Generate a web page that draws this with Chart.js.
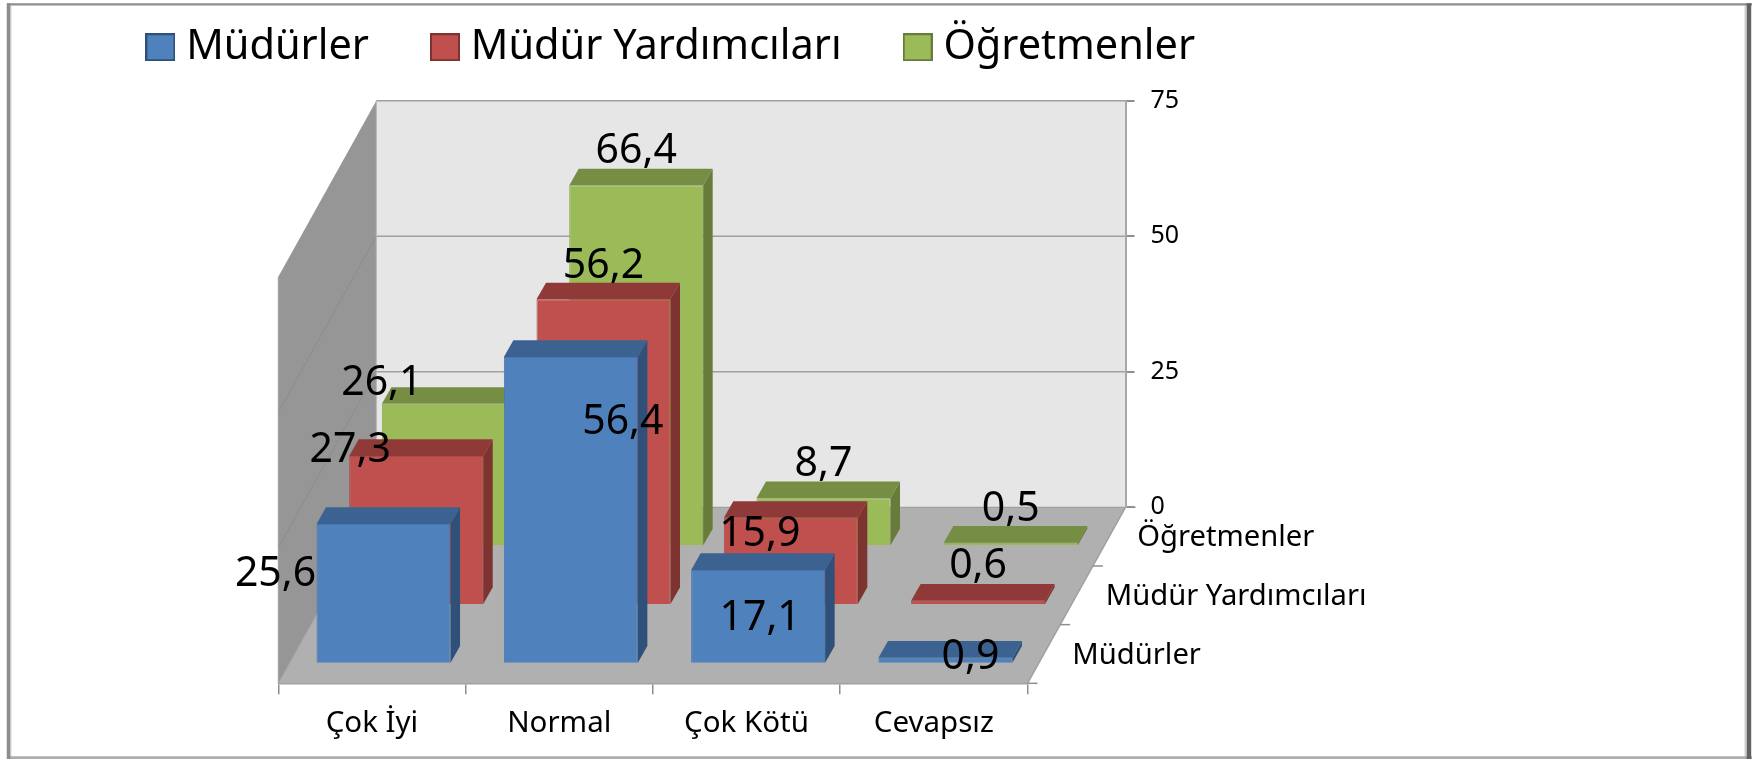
<!DOCTYPE html>
<html>
<head>
<meta charset="utf-8">
<style>html,body{margin:0;padding:0;background:#fff}canvas{display:block}</style>
<script src="https://cdn.jsdelivr.net/npm/chart.js@4"></script>
</head>
<body>
<canvas id="c" width="1752" height="759"></canvas>
<script>
const categories = ['Çok İyi', 'Normal', 'Çok Kötü', 'Cevapsız'];
const seriesNames = ['Müdürler', 'Müdür Yardımcıları', 'Öğretmenler'];
const mudurler = [25.6, 56.4, 17.1, 0.9];
const yardimcilar = [27.3, 56.2, 15.9, 0.6];
const ogretmenler = [26.1, 66.4, 8.7, 0.5];
const valueTicks = [0, 25, 50, 75];

// styling and projection of the 3D box, kept apart from the data
const FONT = '"Noto Sans"';
const fronts = ['#4F81BD', '#C0504D', '#9BBB59'];
const edges = ['#4776AE', '#B04845', '#8FAD52'];
const tops = ['#3C6292', '#8F3A38', '#768E43'];
const sides = ['#2F5078', '#7D3330', '#677C3A'];
const G = {
  floorLeft: 278.3, floorY: 683.3, catW: 187.3, wallH: 406.6,
  depthX: 98, depthY: 176, barInsetX: 11.6, barInsetY: 20.6,
  capX: 9.5, capY: 16.7
};
const labelShift = [
  [[-108, 50.5], [52, 65.5], [2, 48.5], [25, -0.5]],
  [[-66, -5.5], [0, -33.5], [-31, 16.5], [0, -34.5]],
  [[-67, -20.5], [0, -34], [0, -33.5], [0, -33.5]]
];
const depthLabelPos = [[1072.3, 655.7], [1105.7, 596.7], [1137.3, 538]];

function poly(ctx, pts, fill) {
  ctx.beginPath();
  pts.forEach((p, i) => i ? ctx.lineTo(p[0], p[1]) : ctx.moveTo(p[0], p[1]));
  ctx.closePath();
  ctx.fillStyle = fill;
  ctx.fill();
}
function line(ctx, x1, y1, x2, y2, color, w) {
  ctx.beginPath();
  ctx.moveTo(x1, y1);
  ctx.lineTo(x2, y2);
  ctx.strokeStyle = color;
  ctx.lineWidth = w;
  ctx.stroke();
}
function swatch(i) {
  const cv = document.createElement('canvas');
  cv.width = 30; cv.height = 28;
  const c = cv.getContext('2d');
  c.fillStyle = fronts[i];
  c.fillRect(0, 0, 30, 28);
  c.strokeStyle = sides[i];
  c.lineWidth = 2;
  c.strokeRect(1, 1, 28, 26);
  return cv;
}
function place(s, left, right, top, bottom) {
  s.left = left; s.right = right; s.top = top; s.bottom = bottom;
  s.width = right - left; s.height = bottom - top;
  s.configure();
}

const box3d = {
  id: 'box3d',
  afterLayout(chart) {
    const S = chart.scales, w = G.catW * categories.length;
    place(S.x, G.floorLeft, G.floorLeft + w, G.floorY, G.floorY + 70);
    place(S.yWall, G.floorLeft + G.depthX + w, G.floorLeft + G.depthX + w + 70,
      G.floorY - G.depthY - G.wallH, G.floorY - G.depthY);
    seriesNames.forEach((_, i) => {
      const l = G.floorLeft + G.barInsetX + i * G.depthX / 3;
      const b = G.floorY - G.barInsetY - i * G.depthY / 3;
      place(S['x' + i], l, l + w, b, b);
      place(S['y' + i], l, l, b - G.wallH, b);
    });
    const lg = chart.legend;
    lg.left = 84.4; lg.top = -44.5;
  },
  beforeDraw(chart) {
    const ctx = chart.ctx, S = chart.scales, W = chart.width, H = chart.height;
    ctx.save();
    ctx.fillStyle = '#fff';
    ctx.fillRect(0, 0, W, H);
    // picture frame
    line(ctx, 10.8, 5.5, 10.8, 757, '#DADADA', 1.5);
    line(ctx, 1745.3, 5.5, 1745.3, 757, '#CCCCCC', 1.5);
    line(ctx, 7, 757.6, 1752, 757.6, '#ADADAD', 2.8);
    line(ctx, 8.5, 3.3, 8.5, 759, '#8C8C8C', 3.5);
    line(ctx, 7, 4.4, 1752, 4.4, '#8E8E8E', 2.3);
    line(ctx, 1748.9, 3.3, 1748.9, 759, '#626262', 4.6);

    const fl = S.x.left, fr = S.x.right, fy = S.x.top;
    const dx = G.depthX, dy = G.depthY;
    const y0 = S.yWall.getPixelForValue(0), yMax = S.yWall.getPixelForValue(75);
    poly(ctx, [[fl + dx, yMax], [fr + dx, yMax], [fr + dx, y0], [fl + dx, y0]], '#E6E6E6');
    poly(ctx, [[fl, yMax + dy], [fl + dx, yMax], [fl + dx, y0], [fl, fy]], '#969696');
    poly(ctx, [[fl, fy], [fl + dx, y0], [fr + dx, y0], [fr, fy]], '#B0B0B0');
    valueTicks.forEach(v => {
      const y = S.yWall.getPixelForValue(v);
      if (v > 0) {
        line(ctx, fl + dx, y, fr + dx, y, '#A0A0A0', 1.5);
        if (v < 75) line(ctx, fl, y + dy, fl + dx, y, '#8C8C8C', 1);
      }
    });
    line(ctx, fl, fy, fl + dx, y0, '#A0A0A0', 1);
    line(ctx, fl + dx, y0, fr + dx, y0, '#A0A0A0', 1.2);
    line(ctx, fl + dx, yMax, fl + dx, y0, '#B4B4B4', 1);
    line(ctx, fr, fy, fr + dx, y0, '#A0A0A0', 1.5);
    line(ctx, fl, yMax + dy, fl, fy, '#A0A0A0', 1);
    // depth axis ticks and labels
    for (let i = 0; i <= seriesNames.length; i++) {
      const tx = fr + i * dx / 3, ty = fy - i * dy / 3;
      line(ctx, tx, ty, tx + 10, ty, '#8E8E8E', 1.5);
    }
    ctx.fillStyle = '#000';
    ctx.font = '29.2px ' + FONT;
    ctx.textBaseline = 'middle';
    ctx.textAlign = 'left';
    seriesNames.forEach((n, i) => ctx.fillText(n, depthLabelPos[i][0], depthLabelPos[i][1]));
    ctx.restore();
  },
  afterDatasetDraw(chart, args) {
    const ctx = chart.ctx, i = args.index;
    ctx.save();
    chart.getDatasetMeta(i).data.forEach(bar => {
      const p = bar.getProps(['x', 'y', 'base', 'width'], true);
      const L = p.x - p.width / 2, R = p.x + p.width / 2;
      poly(ctx, [[R, p.y], [R + G.capX, p.y - G.capY], [R + G.capX, p.base - G.capY], [R, p.base]], sides[i]);
      poly(ctx, [[L, p.y], [L + G.capX, p.y - G.capY], [R + G.capX, p.y - G.capY], [R, p.y]], tops[i]);
    });
    ctx.restore();
  },
  afterDatasetsDraw(chart) {
    const ctx = chart.ctx;
    ctx.save();
    ctx.fillStyle = '#000';
    ctx.font = '41px ' + FONT;
    ctx.textAlign = 'center';
    ctx.textBaseline = 'middle';
    chart.data.datasets.forEach((ds, i) => {
      chart.getDatasetMeta(i).data.forEach((bar, j) => {
        const t = ds.data[j].toFixed(1).replace('.', ',');
        ctx.fillText(t, bar.x + labelShift[i][j][0], bar.y + labelShift[i][j][1]);
      });
    });
    ctx.restore();
  }
};

const allSeries = [mudurler, yardimcilar, ogretmenler];
const hiddenAxes = {};
seriesNames.forEach((_, i) => {
  hiddenAxes['x' + i] = { type: 'category', labels: categories, offset: true, display: false };
  hiddenAxes['y' + i] = { type: 'linear', min: 0, max: 75, display: false };
});

new Chart(document.getElementById('c'), {
  type: 'bar',
  plugins: [box3d],
  data: {
    labels: categories,
    datasets: seriesNames.map((n, i) => ({
      label: n,
      data: allSeries[i],
      xAxisID: 'x' + i,
      yAxisID: 'y' + i,
      backgroundColor: fronts[i],
      borderColor: edges[i],
      borderWidth: 1,
      grouped: false,
      barPercentage: 134 / 187.3,
      categoryPercentage: 1,
      clip: false
    }))
  },
  options: {
    responsive: false,
    animation: false,
    events: [],
    scales: Object.assign({
      x: {
        type: 'category', labels: categories, offset: true, position: 'bottom',
        grid: { offset: true, drawOnChartArea: false, tickLength: 11, color: '#8E8E8E', lineWidth: 1.5 },
        border: { color: '#A0A0A0', width: 1.5 },
        ticks: { autoSkip: false, maxRotation: 0, minRotation: 0, color: '#000', padding: 12, font: { family: FONT, size: 29.5 } }
      },
      yWall: {
        type: 'linear', position: 'right', min: 0, max: 75,
        afterBuildTicks(s) { s.ticks = valueTicks.map(v => ({ value: v })); },
        grid: { drawOnChartArea: false, tickLength: 9, color: '#8E8E8E', lineWidth: 2 },
        border: { color: '#A8A8A8', width: 2 },
        ticks: { color: '#000', padding: 16, font: { family: FONT, size: 25 } }
      }
    }, hiddenAxes),
    plugins: {
      tooltip: { enabled: false },
      title: { display: false },
      legend: {
        position: 'top',
        align: 'start',
        labels: {
          usePointStyle: true,
          pointStyleWidth: 10,
          boxHeight: 28,
          padding: 71,
          color: '#000',
          font: { family: FONT, size: 41.5 },
          generateLabels: () => seriesNames.map((n, i) => ({
            text: n, datasetIndex: i, pointStyle: swatch(i), fillStyle: fronts[i],
            strokeStyle: sides[i], lineWidth: 0, fontColor: '#000'
          }))
        }
      }
    }
  }
});
</script>
</body>
</html>
